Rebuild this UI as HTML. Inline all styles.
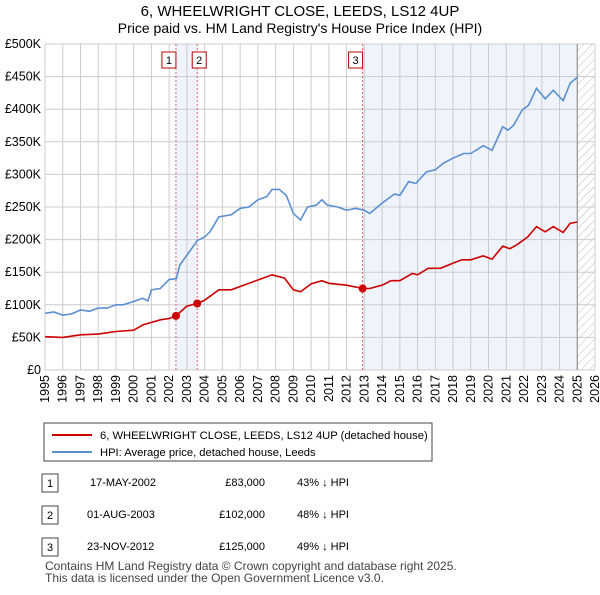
<!DOCTYPE html><html><head><meta charset="utf-8"><style>
body{margin:0;background:#fff;font-family:"Liberation Sans",sans-serif;color:#222}
svg text{font-family:"Liberation Sans",sans-serif}
</style></head><body>
<svg id="c" width="600" height="590" xmlns="http://www.w3.org/2000/svg">
<text x="300" y="16" text-anchor="middle" font-size="15">6, WHEELWRIGHT CLOSE, LEEDS, LS12 4UP</text>
<text x="300" y="33" text-anchor="middle" font-size="14">Price paid vs. HM Land Registry's House Price Index (HPI)</text>
<defs><pattern id="h" width="6" height="6" patternUnits="userSpaceOnUse" patternTransform="rotate(45)"><line x1="0" y1="0" x2="0" y2="6" stroke="#bbb" stroke-width="1"/></pattern></defs>
<g id="plot"></g>
<rect x="44" y="423" width="388" height="38" fill="#fff" stroke="#444"/>
<line x1="52" y1="435" x2="92" y2="435" stroke="#cc0000" stroke-width="2"/>
<text x="100" y="439" font-size="11.2">6, WHEELWRIGHT CLOSE, LEEDS, LS12 4UP (detached house)</text>
<line x1="52" y1="452" x2="92" y2="452" stroke="#5b8fd0" stroke-width="2"/>
<text x="100" y="456" font-size="11.2">HPI: Average price, detached house, Leeds</text>
<g font-size="11">
<rect x="42" y="474" width="16" height="18" fill="#fff" stroke="#444"/><text x="50" y="487" text-anchor="middle">1</text>
<text x="90" y="486">17-MAY-2002</text><text x="265" y="486" text-anchor="end">£83,000</text><text x="297" y="486">43% ↓ HPI</text>
<rect x="42" y="506" width="16" height="18" fill="#fff" stroke="#444"/><text x="50" y="519" text-anchor="middle">2</text>
<text x="87" y="518">01-AUG-2003</text><text x="265" y="518" text-anchor="end">£102,000</text><text x="297" y="518">48% ↓ HPI</text>
<rect x="42" y="538" width="16" height="18" fill="#fff" stroke="#444"/><text x="50" y="551" text-anchor="middle">3</text>
<text x="87" y="550">23-NOV-2012</text><text x="265" y="550" text-anchor="end">£125,000</text><text x="297" y="550">49% ↓ HPI</text>
</g>
<text x="45" y="570" font-size="12" fill="#444">Contains HM Land Registry data © Crown copyright and database right 2025.</text>
<text x="45" y="582" font-size="12" fill="#444">This data is licensed under the Open Government Licence v3.0.</text>
</svg>
<script>
const yTicks=[0,50,100,150,200,250,300,350,400,450,500];
const yTickLabels=["£0","£50K","£100K","£150K","£200K","£250K","£300K","£350K","£400K","£450K","£500K"];
const years=[1995,1996,1997,1998,1999,2000,2001,2002,2003,2004,2005,2006,2007,2008,2009,2010,2011,2012,2013,2014,2015,2016,2017,2018,2019,2020,2021,2022,2023,2024,2025,2026];
const hpiX=[1995,1995.5,1996,1996.5,1997,1997.5,1998,1998.5,1999,1999.4,2000,2000.5,2000.8,2001,2001.5,2002,2002.4,2002.6,2003,2003.6,2004,2004.3,2004.8,2005.5,2006,2006.5,2007,2007.5,2007.8,2008.2,2008.6,2009,2009.4,2009.8,2010.3,2010.6,2010.9,2011.5,2012,2012.5,2013,2013.3,2014,2014.7,2015,2015.5,2015.9,2016.5,2017,2017.45,2018,2018.6,2019,2019.7,2020.2,2020.8,2021.1,2021.4,2021.9,2022.25,2022.7,2023.2,2023.65,2023.9,2024.2,2024.6,2025];
const hpiY=[87,89,84,86,92,90,95,95,100,100,105,110,106,123,125,139,140,161,176,199,204,212,235,238,248,250,261,266,277,277,268,240,230,250,253,261,253,250,245,248,245,240,256,270,268,289,286,304,307,317,325,332,332,344,337,373,368,375,399,406,432,416,429,422,413,440,449];
const ppX=[1995,1996,1997,1998,1999,2000,2000.5,2001.5,2002,2002.38,2003,2003.58,2004,2004.8,2005.5,2006,2007,2007.8,2008.5,2009,2009.4,2010,2010.6,2011,2012,2012.9,2013.3,2014,2014.5,2015,2015.7,2016,2016.6,2017.3,2018,2018.5,2019,2019.7,2020.2,2020.8,2021.2,2021.6,2022.2,2022.7,2023.2,2023.65,2024.2,2024.6,2025];
const ppY=[51,50,54,55,59,61,69,77,79,83,98,102,107,123,123,128,138,146,141,123,120,132,137,133,130,125,125,130,137,137,148,146,156,156,164,169,169,175,170,190,186,192,204,220,212,220,211,225,227];
const saleX=[2002.38,2003.58,2012.9];
const saleY=[83,102,125];
const saleLabels=["1","2","3"];
const X0=45,X1=595,Y0=370,Y1=44;
const sx=y=>X0+(y-1995)*(X1-X0)/31;
const sy=v=>Y0-v*(Y0-Y1)/500;
const g=document.getElementById('plot');const NS="http://www.w3.org/2000/svg";
function el(t,a,p){const e=document.createElementNS(NS,t);for(const k in a)e.setAttribute(k,a[k]);(p||g).appendChild(e);return e;}
let r=el('rect',{x:sx(saleX[0]),y:Y1,width:sx(saleX[1])-sx(saleX[0]),height:Y0-Y1,fill:'#eef3fc'});


r=el('rect',{x:sx(saleX[2]),y:Y1,width:sx(2025)-sx(saleX[2]),height:Y0-Y1,fill:'#eef3fc'});


r=el('rect',{x:sx(2025),y:Y1,width:sx(2026)-sx(2025),height:Y0-Y1,fill:'url(#h)'});


years.forEach(y=>{const l=el('line',{x1:sx(y),x2:sx(y),y1:Y1,y2:Y0,stroke:'#ccc'});


const t=el('text',{x:0,y:0,'font-size':12.5,'text-anchor':'end',transform:`translate(${sx(y)+4},${Y0+5}) rotate(-90)`});t.textContent=y;

});
yTicks.forEach((v,i)=>{const l=el('line',{x1:X0,x2:X1,y1:sy(v),y2:sy(v),stroke:'#ccc'});


const t=el('text',{x:X0-4,y:sy(v)+4,'font-size':12.5,'text-anchor':'end'});t.textContent=yTickLabels[i];

});
let l=el('line',{x1:sx(2025),x2:sx(2025),y1:Y1,y2:Y0,stroke:'#888'});


saleX.forEach((x,i)=>{const d=el('line',{x1:sx(x),x2:sx(x),y1:Y1,y2:Y0,stroke:'#e06060','stroke-dasharray':'2,2'});


const b=el('rect',{x:(i==1?sx(x)-5:sx(x)-14),y:52,width:14,height:16,fill:'#fff',stroke:'#b00'});


const t=el('text',{x:(i==1?sx(x)+2:sx(x)-7),y:64,'font-size':11,'text-anchor':'middle'});t.textContent=saleLabels[i];

});
const path=(xs,ys)=>xs.map((x,i)=>(i?'L':'M')+sx(x).toFixed(1)+','+sy(ys[i]).toFixed(1)).join('');
let p=el('path',{d:path(hpiX,hpiY),fill:'none',stroke:'#5b8fd0','stroke-width':1.6});


p=el('path',{d:path(ppX,ppY),fill:'none',stroke:'#cc0000','stroke-width':1.6});


saleX.forEach((x,i)=>{const c=el('circle',{cx:sx(x),cy:sy(saleY[i]),r:4,fill:'#cc0000'});

});
</script></body></html>
